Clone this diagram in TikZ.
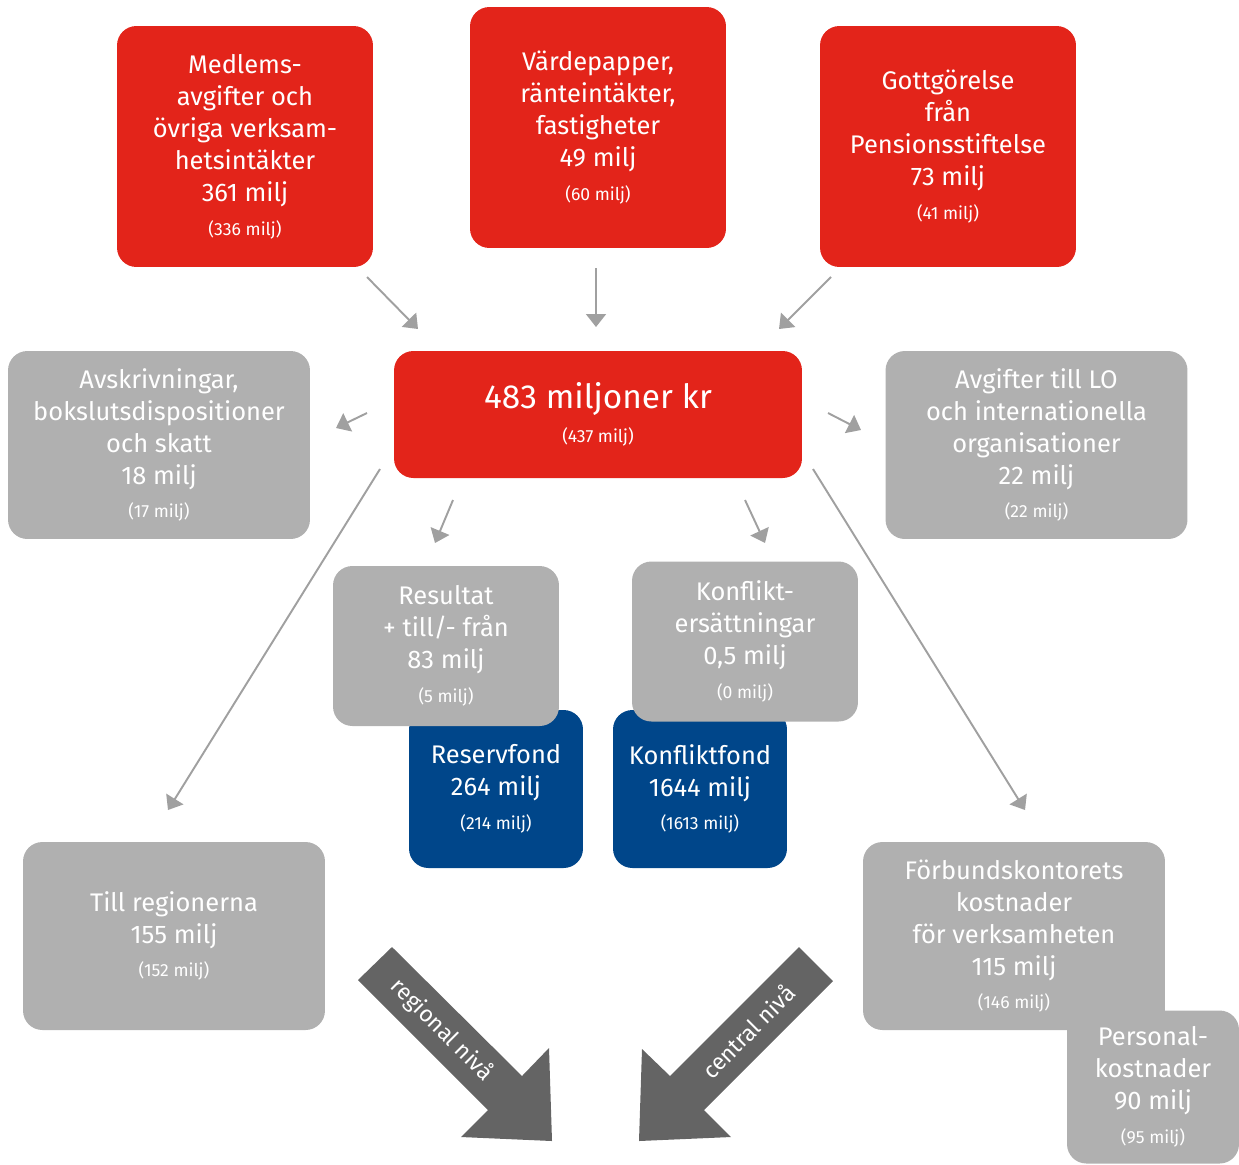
\documentclass[tikz,border=0pt]{standalone}
\usepackage{fontspec}
\setmainfont{Fira Sans}
\usepackage{tikz}
\usetikzlibrary{arrows.meta}
\definecolor{lkred}{HTML}{E3241A}
\definecolor{lkgrey}{HTML}{B0B0B0}
\definecolor{lkblue}{HTML}{00468A}
\definecolor{flowgrey}{HTML}{A0A0A0}
\definecolor{levelgrey}{HTML}{646464}
\newcommand{\prevyr}[1]{\\[1pt]{\fontsize{10}{12}\selectfont(#1)}}

\begin{document}
\begin{tikzpicture}[
   x=0.02cm, y=-0.02cm,
   box/.style={rounded corners=11pt, align=center, inner sep=0pt, text=white,
      font=\fontsize{14.5}{18.2}\selectfont},
   incomebox/.style={box, fill=lkred, minimum width=5.12cm, minimum height=4.82cm},
   costbox/.style={box, fill=lkgrey, minimum width=6.04cm, minimum height=3.76cm},
   midbox/.style={box, fill=lkgrey, minimum width=4.52cm, minimum height=3.2cm},
   fundbox/.style={box, fill=lkblue, minimum width=3.48cm, minimum height=3.16cm},
   flow/.style={draw=flowgrey, line width=1.1pt,
      -{Triangle[length=2.6mm,width=4mm]}},
   levellab/.style={text=white, inner sep=0pt, font=\fontsize{13}{15}\selectfont}
]
\useasboundingbox (0,0) rectangle (1239,1164);

% income
\node[incomebox] (medl) at (245,146.5)
   {Medlems-\\avgifter och\\övriga verksam-\\hetsintäkter\\361 milj\prevyr{336 milj}};
\node[incomebox] (varde) at (598,127.5)
   {Värdepapper,\\ränteintäkter,\\fastigheter\\49 milj\prevyr{60 milj}};
\node[incomebox] (gott) at (948,146.5)
   {Gottgörelse\\från\\Pensionsstiftelse\\73 milj\prevyr{41 milj}};

\node[box, fill=lkred, minimum width=8.16cm, minimum height=2.54cm] (total) at (598,414.5)
   {{\fontsize{19}{22}\selectfont 483 miljoner kr}\prevyr{437 milj}};

% costs
\node[costbox] (avskr) at (159,445)
   {Avskrivningar,\\bokslutsdispositioner\\och skatt\\18 milj\prevyr{17 milj}};
\node[costbox] (avgLO) at (1036.5,445)
   {Avgifter till LO\\och internationella\\organisationer\\22 milj\prevyr{22 milj}};

\node[fundbox] (reserv) at (496,789) {Reservfond\\264 milj\prevyr{214 milj}};
\node[fundbox] (konffond) at (700,789) {Konfliktfond\\1644 milj\prevyr{1613 milj}};
\node[midbox] (result) at (446,646)
   {Resultat\\+ till/- från\\83 milj\prevyr{5 milj}};
\node[midbox] (konfers) at (745,641.5)
   {Konflikt-\\ersättningar\\0,5 milj\prevyr{0 milj}};

\node[costbox] (region) at (174,936) {Till regionerna\\155 milj\prevyr{152 milj}};
\node[costbox] (forbund) at (1014,936)
   {Förbundskontorets\\kostnader\\för verksamheten\\115 milj\prevyr{146 milj}};
\node[box, fill=lkgrey, minimum width=3.44cm, minimum height=3.06cm] (personal) at (1153,1087)
   {Personal-\\kostnader\\90 milj\prevyr{95 milj}};

% arrow ends
\coordinate (m1) at (367,277);  \coordinate (m2) at (418,329);
\coordinate (v1) at (596,268);  \coordinate (v2) at (596,327);
\coordinate (g1) at (831,277);  \coordinate (g2) at (779,329);
\coordinate (a1) at (367,413);  \coordinate (a2) at (336,428);
\coordinate (l1) at (828,413);  \coordinate (l2) at (861,430);
\coordinate (r1) at (453,500);  \coordinate (r2) at (435,543);
\coordinate (k1) at (745,500);  \coordinate (k2) at (765,543);
\coordinate (t1) at (380,469);  \coordinate (t2) at (168,810);
\coordinate (f1) at (813,469);  \coordinate (f2) at (1025,810);

\draw[flow] (m1) -- (m2);
\draw[flow] (v1) -- (v2);
\draw[flow] (g1) -- (g2);
\draw[flow] (a1) -- (a2);
\draw[flow] (l1) -- (l2);
\draw[flow] (r1) -- (r2);
\draw[flow] (k1) -- (k2);
\draw[flow] (t1) -- (t2);
\draw[flow] (f1) -- (f2);

% level arrows
\fill[levelgrey] (358,980) -- (392,947) -- (522,1076) -- (549,1048) -- (552,1141)
   -- (461,1137) -- (488,1110) -- cycle;
\fill[levelgrey] (833,981) -- (799,947) -- (670,1076) -- (642,1049) -- (639,1141)
   -- (731,1137) -- (704,1110) -- cycle;
\node[levellab, rotate=-45] (reglab) at (442,1030) {regional nivå};
\node[levellab, rotate=45] (cenlab) at (748,1031) {central nivå};
\end{tikzpicture}
\end{document}
